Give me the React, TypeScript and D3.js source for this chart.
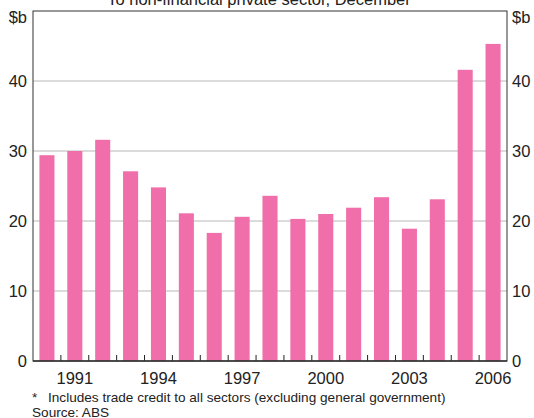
import React from "react";
import * as d3 from "d3";

const years = [1990,1991,1992,1993,1994,1995,1996,1997,1998,1999,2000,2001,2002,2003,2004,2005,2006];
const values = [29.4,30.0,31.6,27.1,24.8,21.1,18.3,20.6,23.6,20.3,21.0,21.9,23.4,18.9,23.1,41.6,45.3];
const yTicks = [0,10,20,30,40];
const labelYears = [1991,1994,1997,2000,2003,2006];
const title = "To non-financial private sector, December";
const unit = "$b";
const footnote = "Includes trade credit to all sectors (excluding general government)";
const source = "Source: ABS";

export default function App() {
  const W = 534, H = 418;
  const left = 33, right = 507, top = 11, bottom = 361;
  const x = d3.scaleBand<number>().domain(years).range([left, right]).paddingInner(0.46).paddingOuter(0.23);
  const xb = d3.scaleBand<number>().domain(years).range([left, right]);
  const y = d3.scaleLinear().domain([0, 50]).range([bottom, top]);
  const font = "Arial, 'Liberation Sans', sans-serif";
  const col = "#f06eaa";
  const fs = 16.5;
  return (
    <svg width={W} height={H} style={{ position: "absolute", left: 0, top: 0 }} fontFamily={font}>
      <rect x={0} y={0} width={W} height={H} fill="#fff" />
      <text x={259} y={5} fontSize={fs} textAnchor="middle" fill="#222">{title}</text>
      {yTicks.filter(t => t > 0).map(t => (
        <line key={t} x1={left} x2={right} y1={y(t)} y2={y(t)} stroke="#b8b8b8" strokeWidth={1} />
      ))}
      {years.map((yr, i) => (
        <rect key={yr} x={x(yr)} y={y(values[i])} width={x.bandwidth()} height={y(0) - y(values[i])} fill={col} />
      ))}
      {years.slice(1).map(yr => (
        <line key={yr} x1={xb(yr)} x2={xb(yr)} y1={bottom} y2={bottom - 6} stroke="#222" strokeWidth={1} />
      ))}
      <rect x={left} y={top} width={right - left} height={bottom - top} fill="none" stroke="#333" strokeWidth={1} />
      <line x1={left} x2={right} y1={bottom} y2={bottom} stroke="#333" strokeWidth={1.5} />
      {yTicks.map(t => (
        <g key={t}>
          <text x={27} y={y(t) + 6} fontSize={fs} textAnchor="end" fill="#222">{t}</text>
          <text x={512} y={y(t) + 6} fontSize={fs} textAnchor="start" fill="#222">{t}</text>
        </g>
      ))}
      <text x={27} y={y(50) + 12} fontSize={fs} textAnchor="end" fill="#222">{unit}</text>
      <text x={512} y={y(50) + 12} fontSize={fs} textAnchor="start" fill="#222">{unit}</text>
      {labelYears.map(yr => (
        <text key={yr} x={(x(yr) as number) + x.bandwidth() / 2} y={384} fontSize={fs} textAnchor="middle" fill="#222">{yr}</text>
      ))}
      <text x={32} y={402} fontSize={13.6} fill="#222">*</text>
      <text x={48} y={402} fontSize={13.6} fill="#222">{footnote}</text>
      <text x={32} y={416.5} fontSize={13.6} fill="#222">{source}</text>
    </svg>
  );
}
